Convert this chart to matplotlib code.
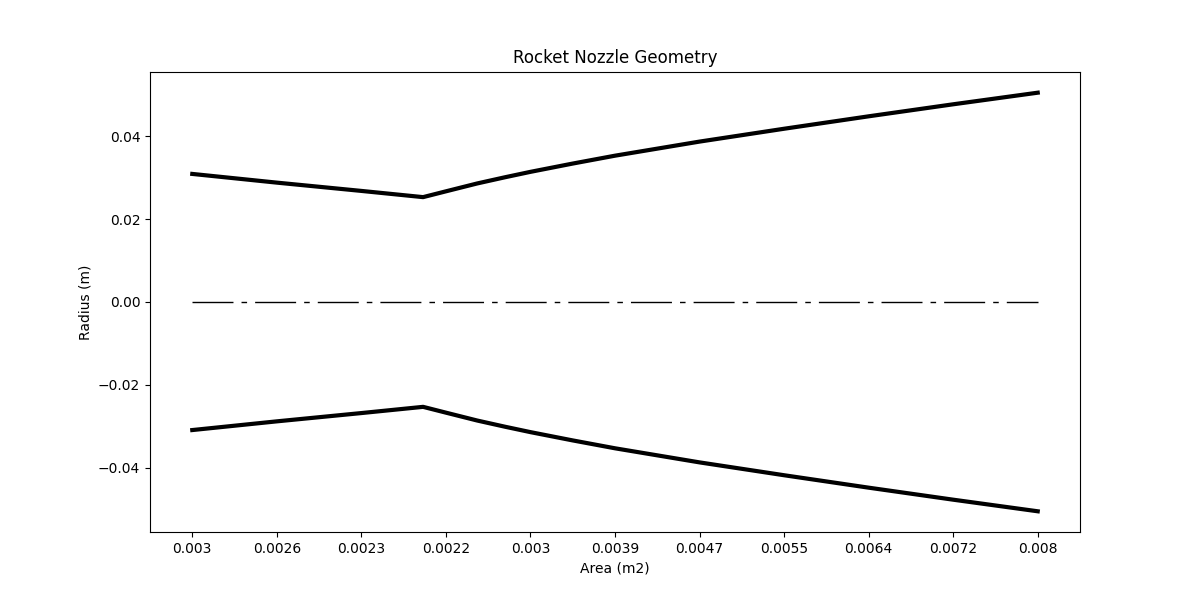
# Rocket nozzle geometry plot
import numpy as np
import matplotlib
matplotlib.use("Agg")
import matplotlib.pyplot as plt

# axial position (tick units) and wall radius
x_pos = [0.0, 1.0, 2.0, 2.73, 3.0, 3.37, 3.7, 4.0, 4.5, 5.0, 5.5, 6.0,
         7.0, 8.0, 9.0, 10.0]
radius = [0.0309, 0.0288, 0.0268, 0.0253, 0.0267, 0.0286, 0.0301, 0.0314,
          0.0334, 0.0353, 0.0370, 0.0387, 0.0418, 0.0448, 0.0477, 0.0505]
tick_pos = [0, 1, 2, 3, 4, 5, 6, 7, 8, 9, 10]
tick_labels = ["0.003", "0.0026", "0.0023", "0.0022", "0.003", "0.0039",
               "0.0047", "0.0055", "0.0064", "0.0072", "0.008"]

x = np.array(x_pos)
r = np.array(radius)

fig = plt.figure(figsize=(12, 5.98), dpi=100)
ax = fig.add_subplot(111)
ax.plot(x, r, color="black", linewidth=3)
ax.plot(x, -r, color="black", linewidth=3)
ax.plot([x[0], x[-1]], [0, 0], color="black", linewidth=1,
        dashes=(29.5, 5.8, 4, 5.8))
ax.set_xticks(tick_pos)
ax.set_xticklabels(tick_labels)
ax.set_title("Rocket Nozzle Geometry")
ax.set_xlabel("Area (m2)")
ax.set_ylabel("Radius (m)")
fig.savefig("out.png")
